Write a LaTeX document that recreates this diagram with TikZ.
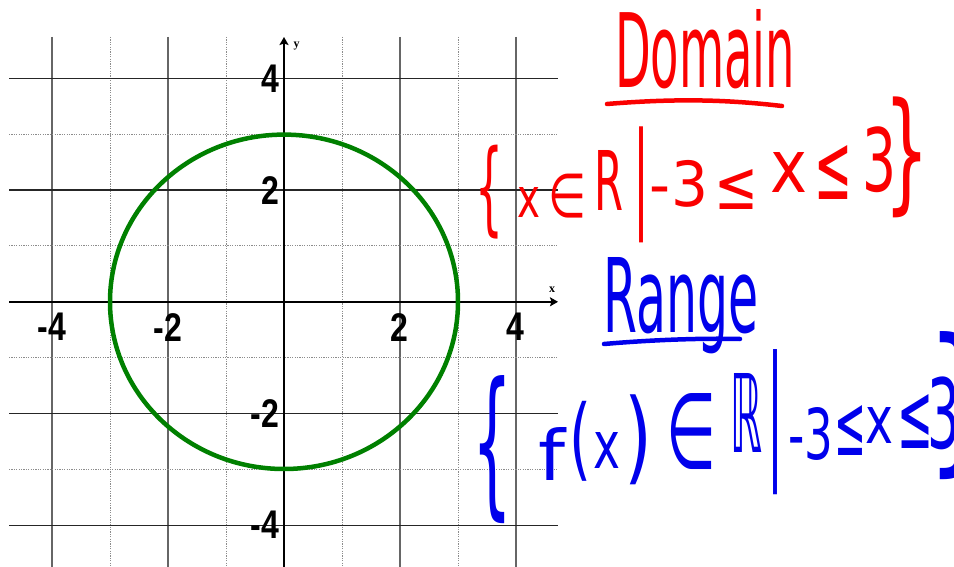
\documentclass[tikz,border=0pt]{standalone}
\usepackage{fontspec}
\usepackage{graphicx}
\newfontfamily\hand{DejaVu Sans}
\newfontfamily\tickfont{Liberation Sans}
\newfontfamily\axfont{Liberation Serif}
\usetikzlibrary{arrows.meta}
\definecolor{inkred}{RGB}{250,0,0}
\definecolor{inkblue}{RGB}{0,0,235}
\definecolor{circgreen}{RGB}{0,128,0}
\newcommand\hw[3]{\resizebox*{#1pt}{#2pt}{\hand #3}}
\newcommand\tk[1]{\scalebox{0.8}[1]{\tickfont\bfseries\fontsize{40}{40}\selectfont #1}}
\tikzset{
  gridsolidv/.style={draw=black!60, line width=1.2pt},
  gridsolidh/.style={draw=black!85, line width=1.2pt},
  griddot/.style={draw=black!45, line width=1pt, dash pattern=on 1.2pt off 1.2pt},
  axisline/.style={draw=black, line width=2pt, -{Stealth[length=8pt,width=9pt,inset=1.5pt]}},
  circ/.style={draw=circgreen, line width=4.5pt},
  tick/.style={inner sep=0pt, text=black},
  axlab/.style={inner sep=0pt, font=\axfont\bfseries\fontsize{12}{12}\selectfont},
  hr/.style={inner sep=0pt, text=inkred},
  hb/.style={inner sep=0pt, text=inkblue},
  redline/.style={draw=inkred, line width=4.5pt, line cap=round},
  blueline/.style={draw=inkblue, line width=4.5pt, line cap=round}
}
\begin{document}
\begin{tikzpicture}[x=1pt,y=-1pt]
\fill[white] (0,0) rectangle (954,567);
\useasboundingbox (0,0) rectangle (954,567);
\clip (0,0) rectangle (954,567);

% grid
\foreach \k in {-4,-2,2,4} \draw[gridsolidv] ({284+58*\k},37) -- ({284+58*\k},567);
\foreach \k in {-3,-1,1,3} \draw[griddot] ({284+58*\k},37) -- ({284+58*\k},567);
\foreach \k in {-4,-2,2,4} \draw[gridsolidh] (9,{301.8-55.85*\k}) -- (558,{301.8-55.85*\k});
\foreach \k in {-3,-1,1,3} \draw[griddot] (9,{301.8-55.85*\k}) -- (558,{301.8-55.85*\k});

% axes
\coordinate (xl) at (9,301.8);
\coordinate (xr) at (558,301.8);
\coordinate (yb) at (284,567);
\coordinate (yt) at (284,37);
\draw[axisline] (xl) -- (xr);
\draw[axisline] (yb) -- (yt);
\node[axlab] (ylab) at (296.5,46) {y};
\node[axlab] (xlab) at (552,290) {x};

% circle
\draw[circ] (284,301.8) ellipse [x radius=174, y radius=167.2];

% tick labels
\node[tick, anchor=east] (ly4) at (279,78.4) {\tk{4}};
\node[tick, anchor=east] (ly2) at (279,190.1) {\tk{2}};
\node[tick, anchor=east] (lym2) at (279,413.5) {\tk{-2}};
\node[tick, anchor=east] (lym4) at (279,525.2) {\tk{-4}};
\node[tick, anchor=north] (lxm4) at (52,313) {\tk{-4}};
\node[tick, anchor=north] (lxm2) at (168,313) {\tk{-2}};
\node[tick, anchor=north] (lx2) at (399,313) {\tk{2}};
\node[tick, anchor=north] (lx4) at (515,313) {\tk{4}};

% Domain
\node[hr, anchor=south west] (dom) at (615,89) {\resizebox{180pt}{78pt}{\hand Domain}};
\draw[redline] (607,104) .. controls (680,98) and (730,100) .. (782,106);
\node[hr] (d1) at (489,192) {\hw{28}{94}{\{}};
\node[hr] (d2) at (528.5,203) {\hw{23}{30}{x}};
\node[hr] (d3) at (567,196.5) {\hw{38}{44}{∈}};
\node[hr] (d4) at (608.5,180) {\hw{29}{60}{R}};
\node[hr] (d5) at (641,185) {\hw{16}{116}{|}};
\node[hr] (d6) at (679,183.5) {\hw{58}{47}{-3}};
\node[hr] (d7) at (736.5,189) {\hw{44}{40}{≤}};
\node[hr] (d8) at (788.5,173) {\hw{37}{40}{x}};
\node[hr] (d9) at (833,173) {\hw{38}{54}{≤}};
\node[hr] (d10) at (880,160) {\hw{34}{66}{3}};
\node[hr] (d11) at (907.5,157.5) {\hw{45}{121}{\}}};

% Range
\node[hb, anchor=base west] (rng) at (603,332) {\resizebox{155pt}{75pt}{\hand Range}};
\draw[blueline] (604,344) .. controls (650,340) and (700,338) .. (740,339);
\node[hb] (r1) at (493,450) {\hw{40}{148}{\{}};
\node[hb] (r2) at (551.5,453.5) {\hw{27}{53}{f}};
\node[hb] (r3) at (580,441) {\hw{22}{80}{(}};
\node[hb] (r4) at (606.5,450) {\hw{27}{36}{x}};
\node[hb] (r5) at (638.5,439.5) {\hw{28}{90}{)}};
\node[hb] (r6) at (691,431.5) {\hw{50}{76}{∈}};
\node[hb] (r7) at (746,412.5) {\hw{32}{79}{ℝ}};
\node[hb] (r8) at (775,422.5) {\hw{16}{145}{|}};
\node[hb] (r9) at (810.5,433.5) {\hw{45}{53}{-3}};
\node[hb] (r10) at (850,430.5) {\hw{32}{50}{≤}};
\node[hb] (r11) at (879,425) {\hw{28}{36}{x}};
\node[hb] (r12) at (915,421.5) {\hw{36}{54}{≤}};
\node[hb] (r13) at (944,413.5) {\hw{33}{73}{3}};
\node[hb] (r14) at (962,406) {\hw{70}{148}{\}}};
\end{tikzpicture}
\end{document}
